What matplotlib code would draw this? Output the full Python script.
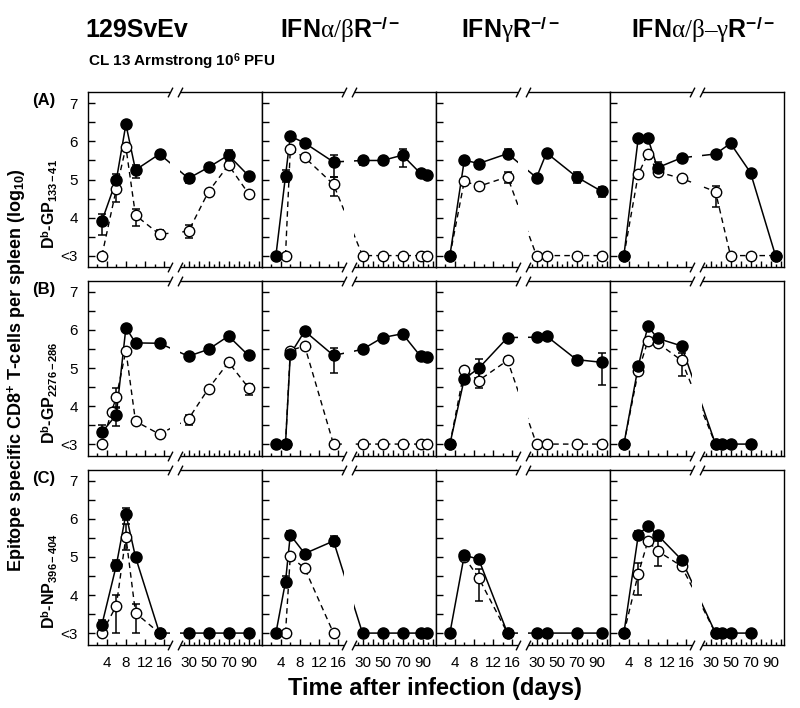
import numpy as np
import matplotlib
matplotlib.use("Agg")
import matplotlib.pyplot as plt
from matplotlib.patches import Rectangle
import matplotlib.transforms as mtransforms

plt.rcParams['font.family'] = ['Liberation Sans', 'DejaVu Sans']
plt.rcParams['mathtext.fontset'] = 'custom'
plt.rcParams['mathtext.rm'] = 'Liberation Serif'
plt.rcParams['mathtext.it'] = 'Liberation Serif:italic'
plt.rcParams['mathtext.bf'] = 'Liberation Sans:bold'
plt.rcParams['mathtext.sf'] = 'Liberation Sans'

# ---------------- data (log10 values; 3.0 means "<3") ----------------
col_titles = ["129SvEv",
              "$\\mathbf{IFN}\\mathrm{\\alpha/\\beta}\\mathbf{R}^{\\mathbf{-/-}}$",
              "$\\mathbf{IFN}\\mathrm{\\gamma}\\mathbf{R}^{\\mathbf{-/-}}$",
              "$\\mathbf{IFN}\\mathrm{\\alpha/\\beta–\\gamma}\\mathbf{R}^{\\mathbf{-/-}}$"]
row_letters = ["(A)", "(B)", "(C)"]
row_labels = ["D$^{\\mathbf{b}}$-GP$_{\\mathbf{133-41}}$",
              "D$^{\\mathbf{b}}$-GP$_{\\mathbf{2276-286}}$",
              "D$^{\\mathbf{b}}$-NP$_{\\mathbf{396-404}}$"]
ytick_vals = [3, 4, 5, 6, 7]
ytick_labels = ["<3", "4", "5", "6", "7"]
xtick_vals = [4, 8, 12, 16, 30, 40, 50, 60, 70, 80, 90, 100]
xtick_labels = ["4", "8", "12", "16", "30", "", "50", "", "70", "", "90", ""]
xminor_vals = [2, 6, 10, 14, 25, 35, 45, 55, 65, 75, 85, 95]

# Row A: GP33-41
A1_fd = [3, 6, 8, 10, 15, 30, 50, 70, 90]
A1_fv = [3.91, 4.98, 6.45, 5.25, 5.67, 5.03, 5.32, 5.64, 5.10]
A1_flo = [0.38, 0.10, 0, 0.21, 0, 0.13, 0, 0.14, 0]
A1_fhi = [0.19, 0.17, 0, 0.13, 0, 0, 0, 0.13, 0]
A1_od = [3, 6, 8, 10, 15, 30, 50, 70, 90]
A1_ov = [3.0, 4.75, 5.85, 4.06, 3.56, 3.64, 4.68, 5.38, 4.63]
A1_olo = [0, 0.35, 0, 0.28, 0.12, 0.17, 0, 0.08, 0]
A1_ohi = [0, 0.17, 0, 0.16, 0.10, 0.16, 0, 0.09, 0]

A2_fd = [3, 5, 6, 9, 15, 30, 50, 70, 88, 94]
A2_fv = [3.0, 5.09, 6.14, 5.96, 5.46, 5.50, 5.50, 5.64, 5.16, 5.13]
A2_flo = [0, 0.16, 0, 0, 0.39, 0.12, 0, 0.32, 0, 0]
A2_fhi = [0, 0.15, 0, 0, 0.18, 0.10, 0, 0.16, 0, 0]
A2_od = [5, 6, 9, 15, 30, 50, 70, 88, 94]
A2_ov = [3.0, 5.79, 5.58, 4.87, 3.0, 3.0, 3.0, 3.0, 3.0]
A2_olo = [0, 0, 0, 0.30, 0, 0, 0, 0, 0]
A2_ohi = [0, 0, 0, 0.20, 0, 0, 0, 0, 0]

A3_fd = [3, 6, 9, 15, 30, 40, 70, 95]
A3_fv = [3.0, 5.51, 5.42, 5.68, 5.05, 5.70, 5.07, 4.69]
A3_flo = [0, 0, 0, 0.12, 0, 0, 0.15, 0.15]
A3_fhi = [0, 0, 0, 0.12, 0, 0, 0.12, 0.12]
A3_od = [3, 6, 9, 15, 30, 40, 70, 95]
A3_ov = [3.0, 4.96, 4.82, 5.07, 3.0, 3.0, 3.0, 3.0]
A3_olo = [0, 0, 0, 0.15, 0, 0, 0, 0]
A3_ohi = [0, 0, 0, 0.12, 0, 0, 0, 0]

A4_fd = [3, 6, 8, 10, 15, 35, 50, 70, 95]
A4_fv = [3.0, 6.10, 6.08, 5.31, 5.57, 5.67, 5.95, 5.18, 3.0]
A4_flo = [0, 0, 0, 0.15, 0, 0, 0, 0, 0]
A4_fhi = [0, 0, 0, 0.15, 0, 0, 0, 0, 0]
A4_od = [3, 6, 8, 10, 15, 35, 50, 70, 95]
A4_ov = [3.0, 5.14, 5.68, 5.20, 5.03, 4.68, 3.0, 3.0, 3.0]
A4_olo = [0, 0, 0, 0, 0, 0.40, 0, 0, 0]
A4_ohi = [0, 0, 0, 0, 0, 0.15, 0, 0, 0]

# Row B: GP276-286
B1_fd = [3, 6, 8, 10, 15, 30, 50, 70, 90]
B1_fv = [3.31, 3.77, 6.06, 5.66, 5.65, 5.31, 5.49, 5.84, 5.33]
B1_flo = [0.10, 0.29, 0, 0, 0, 0, 0, 0, 0]
B1_fhi = [0.18, 0.18, 0, 0, 0, 0, 0, 0, 0]
B1_od = [3, 5, 6, 8, 10, 15, 30, 50, 70, 90]
B1_ov = [3.0, 3.85, 4.23, 5.46, 3.60, 3.26, 3.66, 4.46, 5.15, 4.48]
B1_olo = [0, 0, 0.25, 0, 0, 0, 0.15, 0, 0, 0.20]
B1_ohi = [0, 0, 0.25, 0, 0, 0, 0.10, 0, 0, 0.10]

B2_fd = [3, 5, 6, 9, 15, 30, 50, 70, 88, 94]
B2_fv = [3.0, 3.0, 5.36, 5.97, 5.33, 5.49, 5.80, 5.90, 5.31, 5.29]
B2_flo = [0, 0, 0, 0, 0.45, 0, 0, 0.08, 0, 0]
B2_fhi = [0, 0, 0, 0, 0.20, 0, 0, 0.08, 0, 0]
B2_od = [5, 6, 9, 15, 30, 50, 70, 88, 94]
B2_ov = [3.0, 5.46, 5.58, 3.0, 3.0, 3.0, 3.0, 3.0, 3.0]
B2_olo = [0, 0, 0, 0, 0, 0, 0, 0, 0]
B2_ohi = [0, 0, 0, 0, 0, 0, 0, 0, 0]

B3_fd = [3, 6, 9, 15, 30, 40, 70, 95]
B3_fv = [3.0, 4.72, 4.99, 5.80, 5.81, 5.84, 5.22, 5.15]
B3_flo = [0, 0, 0.25, 0, 0, 0, 0.10, 0.60]
B3_fhi = [0, 0, 0.25, 0, 0, 0, 0.10, 0.25]
B3_od = [3, 6, 9, 15, 30, 40, 70, 95]
B3_ov = [3.0, 4.94, 4.67, 5.20, 3.0, 3.0, 3.0, 3.0]
B3_olo = [0, 0, 0.20, 0.08, 0, 0, 0, 0]
B3_ohi = [0, 0, 0.20, 0.10, 0, 0, 0, 0]

B4_fd = [3, 6, 8, 10, 15, 35, 41, 50, 70]
B4_fv = [3.0, 5.05, 6.10, 5.78, 5.58, 3.0, 3.0, 3.0, 3.0]
B4_flo = [0, 0, 0, 0, 0, 0, 0, 0, 0]
B4_fhi = [0, 0, 0, 0, 0, 0, 0, 0, 0]
B4_od = [3, 6, 8, 10, 15, 35]
B4_ov = [3.0, 4.92, 5.71, 5.66, 5.20, 3.0]
B4_olo = [0, 0, 0, 0, 0.40, 0]
B4_ohi = [0, 0, 0, 0, 0.20, 0]

# Row C: NP396-404
C1_fd = [3, 6, 8, 10, 15, 30, 50, 70, 90]
C1_fv = [3.22, 4.78, 6.13, 5.00, 3.0, 3.0, 3.0, 3.0, 3.0]
C1_flo = [0.10, 0.15, 0.15, 0, 0, 0, 0, 0, 0]
C1_fhi = [0.12, 0.15, 0.15, 0, 0, 0, 0, 0, 0]
C1_od = [3, 6, 8, 10, 15]
C1_ov = [3.0, 3.72, 5.53, 3.53, 3.0]
C1_olo = [0, 0.72, 0.35, 0.53, 0]
C1_ohi = [0, 0.28, 0.35, 0.23, 0]

C2_fd = [3, 5, 6, 9, 15, 30, 50, 70, 88, 94]
C2_fv = [3.0, 4.35, 5.58, 5.09, 5.42, 3.0, 3.0, 3.0, 3.0, 3.0]
C2_flo = [0, 0.15, 0.10, 0, 0.12, 0, 0, 0, 0, 0]
C2_fhi = [0, 0.15, 0.10, 0, 0.12, 0, 0, 0, 0, 0]
C2_od = [5, 6, 9, 15]
C2_ov = [3.0, 5.02, 4.70, 3.0]
C2_olo = [0, 0, 0, 0]
C2_ohi = [0, 0, 0, 0]

C3_fd = [3, 6, 9, 15, 30, 40, 70, 95]
C3_fv = [3.0, 5.05, 4.94, 3.0, 3.0, 3.0, 3.0, 3.0]
C3_flo = [0, 0, 0, 0, 0, 0, 0, 0]
C3_fhi = [0, 0, 0, 0, 0, 0, 0, 0]
C3_od = [6, 9, 15]
C3_ov = [5.00, 4.45, 3.0]
C3_olo = [0, 0.60, 0]
C3_ohi = [0, 0.23, 0]

C4_fd = [3, 6, 8, 10, 15, 35, 41, 50, 70]
C4_fv = [3.0, 5.58, 5.82, 5.58, 4.93, 3.0, 3.0, 3.0, 3.0]
C4_flo = [0, 0.10, 0, 0, 0, 0, 0, 0, 0]
C4_fhi = [0, 0.10, 0, 0, 0, 0, 0, 0, 0]
C4_od = [3, 6, 8, 10, 15, 35]
C4_ov = [3.0, 4.56, 5.42, 5.16, 4.76, 3.0]
C4_olo = [0, 0.55, 0, 0.40, 0, 0]
C4_ohi = [0, 0.28, 0, 0.25, 0, 0]

panels = [
    [(A1_fd, A1_fv, A1_flo, A1_fhi, A1_od, A1_ov, A1_olo, A1_ohi),
     (A2_fd, A2_fv, A2_flo, A2_fhi, A2_od, A2_ov, A2_olo, A2_ohi),
     (A3_fd, A3_fv, A3_flo, A3_fhi, A3_od, A3_ov, A3_olo, A3_ohi),
     (A4_fd, A4_fv, A4_flo, A4_fhi, A4_od, A4_ov, A4_olo, A4_ohi)],
    [(B1_fd, B1_fv, B1_flo, B1_fhi, B1_od, B1_ov, B1_olo, B1_ohi),
     (B2_fd, B2_fv, B2_flo, B2_fhi, B2_od, B2_ov, B2_olo, B2_ohi),
     (B3_fd, B3_fv, B3_flo, B3_fhi, B3_od, B3_ov, B3_olo, B3_ohi),
     (B4_fd, B4_fv, B4_flo, B4_fhi, B4_od, B4_ov, B4_olo, B4_ohi)],
    [(C1_fd, C1_fv, C1_flo, C1_fhi, C1_od, C1_ov, C1_olo, C1_ohi),
     (C2_fd, C2_fv, C2_flo, C2_fhi, C2_od, C2_ov, C2_olo, C2_ohi),
     (C3_fd, C3_fv, C3_flo, C3_fhi, C3_od, C3_ov, C3_olo, C3_ohi),
     (C4_fd, C4_fv, C4_flo, C4_fhi, C4_od, C4_ov, C4_olo, C4_ohi)],
]

# ---------------- broken time axis as a piecewise-linear scale ----------------
def fwd(d):
    d = np.asarray(d, dtype=float)
    return np.where(d <= 18, 4.8 * d,
                    np.where(d >= 20, 71.0 + d, 86.4 + (d - 18) * 2.3))

def inv(u):
    u = np.asarray(u, dtype=float)
    return np.where(u <= 86.4, u / 4.8,
                    np.where(u >= 91.0, u - 71.0, 18 + (u - 86.4) / 2.3))

BRK0, BRK1 = 17.2, 21.7

W, Hf = 800.0, 708.0
fig = plt.figure(figsize=(8.0, 7.08), dpi=100)

L = [87.5, 261.5, 435.5, 609.5]
AW = 174.0
T = [92.0, 280.5, 469.5]
AH = 175.0


def draw_series(ax, d, v, lo, hi, filled):
    d = np.asarray(d, float); v = np.asarray(v, float)
    lo = np.asarray(lo, float); hi = np.asarray(hi, float)
    if filled:
        ax.plot(d, v, '-', color='k', lw=1.1, zorder=2.1)
    else:
        ax.plot(d, v, color='k', lw=1.0, ls=(0, (4, 3)), zorder=2.0)
    m = (lo > 0) | (hi > 0)
    if m.any():
        ax.errorbar(d[m], v[m], yerr=[lo[m], hi[m]], fmt='none', ecolor='k',
                    elinewidth=1.1, capsize=3, capthick=1.1, zorder=4)
    if filled:
        ax.plot(d, v, 'o', ms=8, mfc='k', mec='k', mew=1.0, ls='none', zorder=5.1)
    else:
        ax.plot(d, v, 'o', ms=7.5, mfc='white', mec='k', mew=1.0, ls='none', zorder=5.0)


for r in range(3):
    for c in range(4):
        rect = [L[c] / W, 1 - (T[r] + AH) / Hf, AW / W, AH / Hf]
        ax = fig.add_axes(rect)
        ax.set_xscale('function', functions=(fwd, inv))
        ax.set_xlim(0, 103)
        ax.set_ylim(2.70, 7.30)
        fd, fv, flo, fhi, od, ov, olo, ohi = panels[r][c]
        draw_series(ax, od, ov, olo, ohi, filled=False)
        draw_series(ax, fd, fv, flo, fhi, filled=True)

        for s in ax.spines.values():
            s.set_linewidth(1.0)

        ax.set_yticks(ytick_vals)
        ax.set_yticks([3.5, 4.5, 5.5, 6.5], minor=True)
        ax.set_xticks(xtick_vals)
        ax.set_xticks(xminor_vals, minor=True)
        ax.tick_params(axis='both', which='both', direction='in', width=1.0,
                       top=False, right=False)
        ax.tick_params(axis='y', which='both', length=5)
        ax.tick_params(axis='x', which='major', length=4)
        ax.tick_params(axis='x', which='minor', length=2.5)
        if c == 0:
            ax.set_yticklabels(ytick_labels, fontsize=11)
            ax.tick_params(axis='y', pad=7)
        else:
            ax.tick_params(axis='y', labelleft=False)
        if r == 2:
            ax.set_xticklabels(xtick_labels, fontsize=11)
            ax.tick_params(axis='x', pad=8)
        else:
            ax.tick_params(axis='x', labelbottom=False)

        # break of the time axis
        btr = mtransforms.blended_transform_factory(ax.transData, ax.transAxes)
        ax.add_patch(Rectangle((BRK0, -0.03), BRK1 - BRK0, 1.06, transform=btr,
                               facecolor='white', edgecolor='none', zorder=3,
                               clip_on=False))
        for yy in (0.0, 1.0):
            ax.plot([BRK0, BRK1], [yy, yy], transform=btr, ls='none',
                    marker=[(-0.5, -1.0), (0.5, 1.0)], ms=7, mec='k', mew=1.0,
                    clip_on=False, zorder=6)

        if c == 0:
            fig.text(55 / W, 1 - (T[r] + 9) / Hf, row_letters[r], fontsize=12,
                     fontweight='bold', ha='right', va='center')
            fig.text(50 / W, 1 - (T[r] + 112) / Hf, row_labels[r], fontsize=11.5,
                     fontweight='bold', rotation=90, ha='center', va='center')

# column titles
title_x = [137, 340, 510, 703]
for c in range(4):
    fig.text(title_x[c] / W, 1 - 30 / Hf, col_titles[c], fontsize=18,
             fontweight='bold', ha='center', va='center')

fig.text(88 / W, 1 - 62 / Hf, "CL 13 Armstrong 10$^{\\mathbf{6}}$ PFU", fontsize=11,
         fontweight='bold', ha='left', va='center')

fig.text(17 / W, 1 - 370 / Hf,
         "Epitope specific CD8$^{\\mathbf{+}}$ T-cells per spleen (log$_{\\mathbf{10}}$)",
         fontsize=13, fontweight='bold', rotation=90, ha='center', va='center')

fig.text(435 / W, 1 - 688 / Hf, "Time after infection (days)", fontsize=17,
         fontweight='bold', ha='center', va='center')

fig.savefig("out.png", dpi=100)
